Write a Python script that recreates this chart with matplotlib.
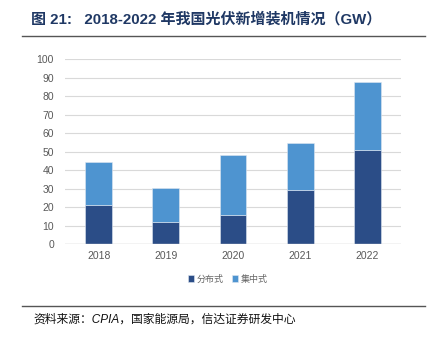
import numpy as np
import matplotlib.pyplot as plt

plt.rcParams['font.family'] = ['Liberation Sans', 'Noto Sans CJK SC', 'DejaVu Sans']

years = ['2018', '2019', '2020', '2021', '2022']
distributed = [20.96, 12.2, 15.5, 29.3, 51.1]
centralized = [23.3, 17.9, 32.7, 25.6, 36.3]
series_names = ['分布式', '集中式']

fig = plt.figure(figsize=(4.34, 3.40), dpi=100)
ax = fig.add_axes([0.150, 0.282, 0.774, 0.544])

x = np.arange(len(years))
ax.bar(x, distributed, width=0.4, color='#2B4D87', edgecolor='#dfe6f0', linewidth=0.4,
       label=series_names[0], zorder=3)
ax.bar(x, centralized, width=0.4, bottom=distributed, color='#4E94D0', edgecolor='#dfe6f0',
       linewidth=0.4, label=series_names[1], zorder=3)

ax.set_xlim(-0.5, len(years) - 0.5)
ax.set_ylim(0, 100)
ax.set_yticks(range(0, 101, 10))
ax.set_xticks(x)
ax.set_xticklabels(years)
ax.yaxis.grid(True, color='#d9d9d9', linewidth=0.8, zorder=0)
for s in ax.spines.values():
    s.set_visible(False)
ax.axhline(0, color='#d0d0d0', linewidth=1, zorder=4)
ax.tick_params(axis='both', length=0, labelsize=7.5, labelcolor='#595959')
ax.tick_params(axis='y', pad=8)
ax.tick_params(axis='x', pad=5)

# legend below the axes
leg = ax.legend(loc='upper center', bbox_to_anchor=(0.485, -0.12), ncol=2, frameon=False,
                handlelength=0.7, handleheight=0.7, handletextpad=0.3, columnspacing=0.9,
                prop={'family': ['Noto Sans CJK SC'], 'size': 6.5})
for t in leg.get_texts():
    t.set_color('#666666')

fig.text(0.072, 0.943, '图 21:   2018-2022 年我国光伏新增装机情况（GW）', fontsize=10.8,
         fontweight='bold', color='#1f3864', va='center',
         family=['Liberation Sans', 'Noto Sans CJK SC'])
fig.add_artist(plt.Line2D([0.051, 0.98], [0.894, 0.894], color='#555555', linewidth=1))
fig.add_artist(plt.Line2D([0.051, 0.98], [0.100, 0.100], color='#555555', linewidth=1))
fig.text(0.078, 0.060, '资料来源：CPIA，国家能源局，信达证券研发中心', fontsize=8.5,
         style='italic', color='#111111', va='center',
         family=['Liberation Sans', 'Noto Sans CJK SC'])

fig.savefig('out.png', dpi=100)
